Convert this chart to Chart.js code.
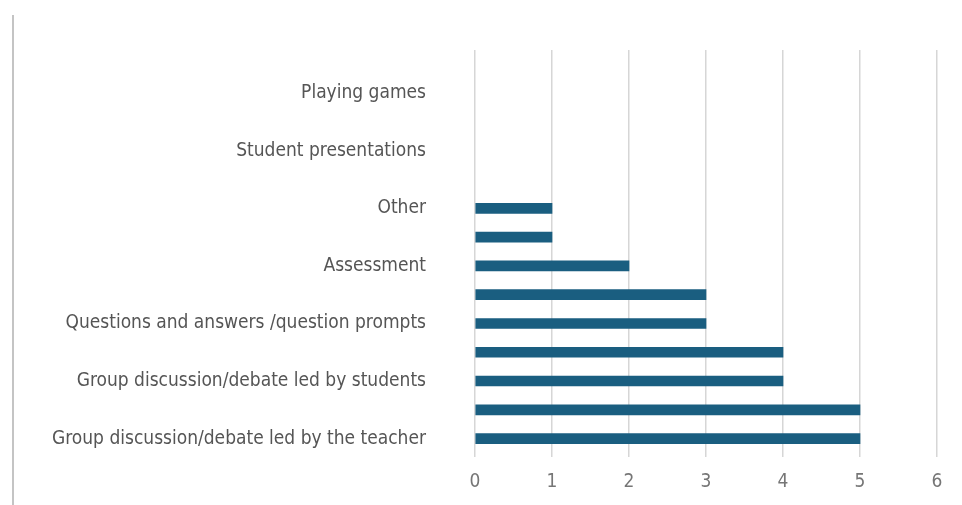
<!DOCTYPE html>
<html>
<head>
<meta charset="utf-8">
<script src="https://cdn.jsdelivr.net/npm/chart.js@4/dist/chart.umd.min.js"></script>
<style>
  html, body { margin: 0; padding: 0; background: #fff; }
  #wrap { position: relative; width: 962px; height: 505px; }
  #edge { position: absolute; left: 12px; top: 15px; width: 2px; height: 490px; background: #c4c4c4; }
  canvas { position: absolute; left: 0; top: 0; }
</style>
</head>
<body>
<div id="wrap">
  <div id="edge"></div>
  <canvas id="chart" width="962" height="505"></canvas>
</div>
<script>
// Rows from top to bottom; only every other row carries a label
const categories = [
  '', 'Playing games', '', 'Student presentations', '', 'Other', '',
  'Assessment', '', 'Questions and answers /question prompts', '',
  'Group discussion/debate led by students', '',
  'Group discussion/debate led by the teacher'
];
const counts = [0, 0, 0, 0, 0, 1, 1, 2, 3, 3, 4, 4, 5, 5];
const xTicks = [0, 1, 2, 3, 4, 5, 6];

const barColor = '#1a5e80';
const labelFont = { family: "'DejaVu Sans Condensed', 'Liberation Sans', sans-serif", size: 19 };

new Chart(document.getElementById('chart'), {
  type: 'bar',
  data: {
    labels: categories,
    datasets: [{
      data: counts,
      // empty rows get no stub at the zero line
      backgroundColor: ctx => ctx.raw === 0 ? 'rgba(0,0,0,0)' : barColor,
      borderWidth: 0,
      barThickness: 10
    }]
  },
  options: {
    indexAxis: 'y',
    responsive: false,
    animation: false,
    layout: { padding: { top: 50, right: 25, bottom: 0, left: 0 } },
    plugins: { legend: { display: false }, tooltip: { enabled: false } },
    scales: {
      x: {
        min: 0,
        max: 6,
        afterBuildTicks: scale => { scale.ticks = xTicks.map(v => ({ value: v })); },
        afterFit: scale => { scale.height = 52; },
        border: { display: false },
        grid: { color: '#d6d6d6', lineWidth: 1.5, tickLength: 4 },
        ticks: { color: '#767676', font: labelFont, padding: 14 }
      },
      y: {
        afterFit: scale => {
          scale.width = 475;
          scale.paddingTop = 0;
          scale.paddingBottom = 0;
        },
        border: { display: false },
        grid: { display: false, drawTicks: false },
        ticks: { color: '#555', font: labelFont, padding: 49, autoSkip: false }
      }
    }
  }
});
</script>
</body>
</html>
